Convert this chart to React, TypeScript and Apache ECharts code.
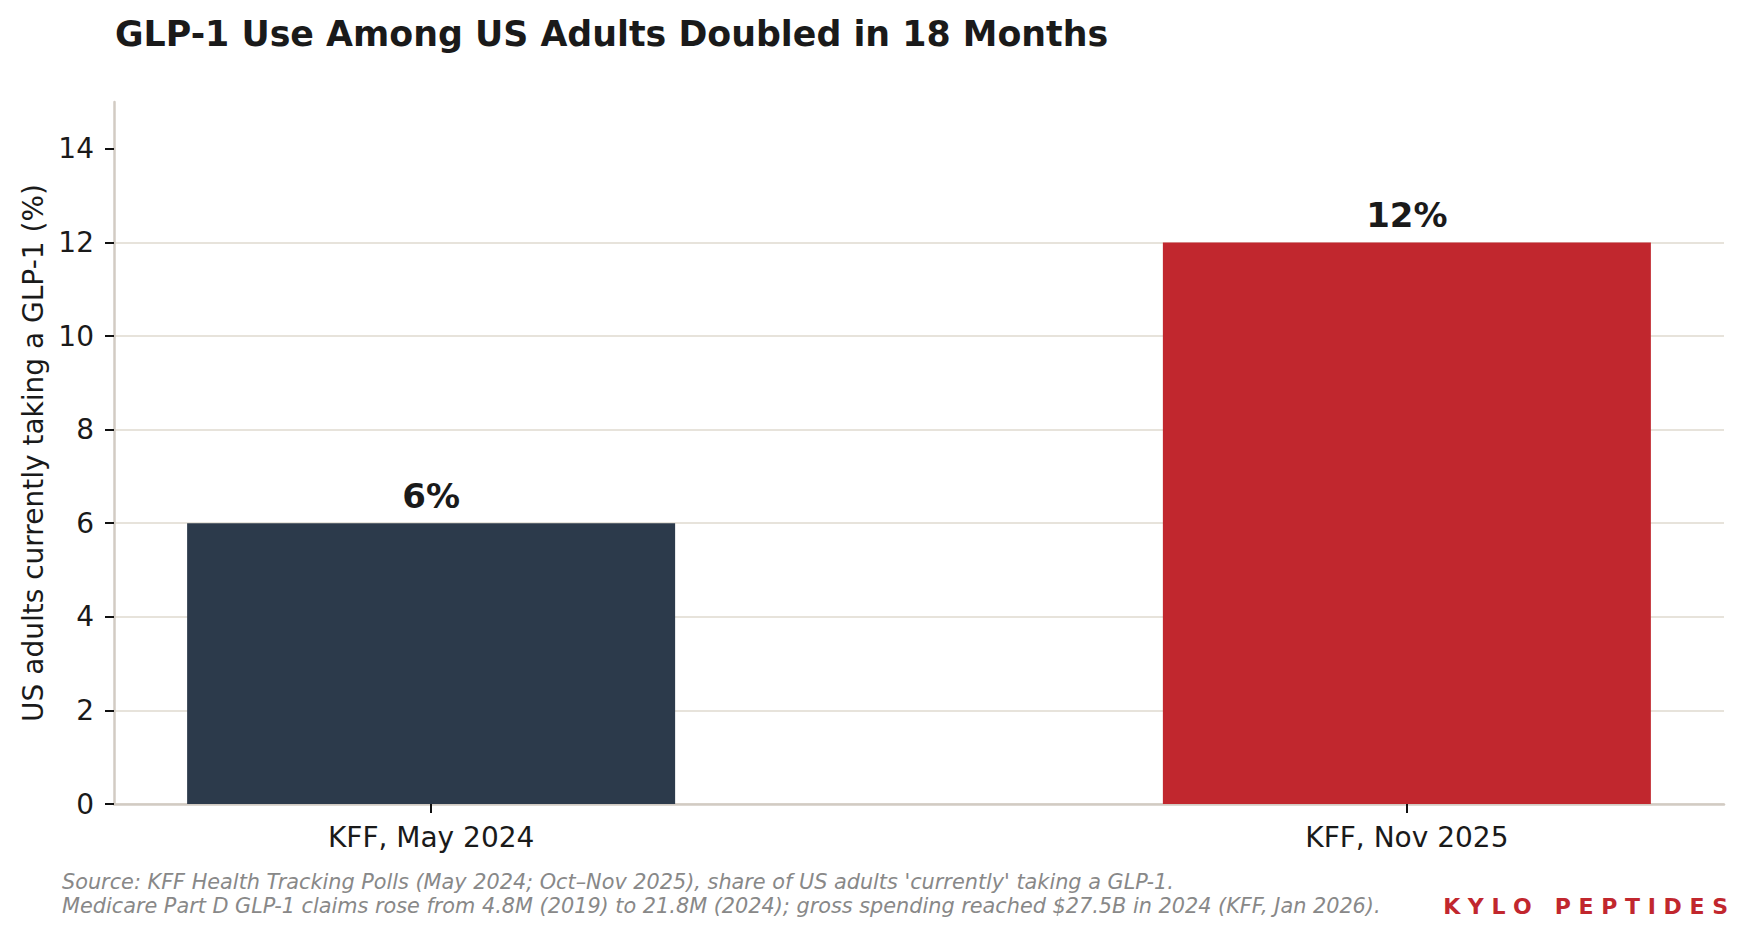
import { useEffect, useRef } from "react";
import * as echarts from "echarts";

// dados
const categories = ["KFF, May 2024", "KFF, Nov 2025"];
const shares = [6, 12];
const barColors = ["#2c3a4b", "#c1272e"];
const yTicks = [0, 2, 4, 6, 8, 10, 12, 14];

const TITLE = "GLP-1 Use Among US Adults Doubled in 18 Months";
const Y_NAME = "US adults currently taking a GLP-1 (%)";
const NOTE_1 = "Source: KFF Health Tracking Polls (May 2024; Oct–Nov 2025), share of US adults 'currently' taking a GLP-1.";
const NOTE_2 = "Medicare Part D GLP-1 claims rose from 4.8M (2019) to 21.8M (2024); gross spending reached $27.5B in 2024 (KFF, Jan 2026).";
const BRAND = "K Y L O   P E P T I D E S";

const FONT = "DejaVu Sans";
const INK = "#1a1a1a";

export default function App() {
  const ref = useRef<HTMLDivElement>(null);

  useEffect(() => {
    if (!ref.current) return;
    const chart = echarts.init(ref.current, undefined, { renderer: "svg" });

    chart.setOption({
      animation: false,
      backgroundColor: "#ffffff",
      textStyle: { fontFamily: FONT },
      grid: { left: 114, right: 23, top: 102, bottom: 131, outerBoundsMode: "none" },
      xAxis: {
        type: "value",
        min: -0.325,
        max: 1.325,
        axisLine: { onZero: false, lineStyle: { color: "#d2cbc3", width: 2.5 } },
        axisTick: { customValues: [0, 1], length: 9, lineStyle: { color: "#111", width: 2 } },
        axisLabel: {
          customValues: [0, 1],
          formatter: (v: number) => categories[Math.round(v)] ?? "",
          fontSize: 28,
          color: INK,
          margin: 19,
          fontFamily: FONT,
        },
        splitLine: { show: false },
      },
      yAxis: {
        type: "value",
        min: 0,
        max: 15,
        interval: 2,
        name: Y_NAME,
        nameLocation: "middle",
        nameGap: 66,
        nameTextStyle: { fontSize: 28, color: INK, fontFamily: FONT },
        axisLine: { show: true, onZero: false, lineStyle: { color: "#d2cbc3", width: 2.5 } },
        axisTick: { show: true, customValues: yTicks, length: 9, lineStyle: { color: "#111", width: 2 } },
        axisLabel: { customValues: yTicks, fontSize: 28, color: INK, margin: 20, fontFamily: FONT },
        splitLine: { showMaxLine: false, lineStyle: { color: "#e7e3db", width: 2 } },
      },
      series: [
        {
          type: "bar",
          barWidth: 488,
          data: shares.map((v, i) => ({ value: [i, v], itemStyle: { color: barColors[i] } })),
          label: {
            show: true,
            position: "top",
            distance: 10,
            formatter: (p: any) => `${p.value[1]}%`,
            fontSize: 34,
            fontWeight: "bold",
            color: INK,
            fontFamily: FONT,
          },
        },
      ],
      graphic: [
        {
          type: "text",
          x: 115,
          y: 34,
          style: { text: TITLE, font: `bold 34.8px "${FONT}"`, fill: INK, verticalAlign: "middle" },
        },
        {
          type: "text",
          x: 62,
          y: 882,
          style: { text: NOTE_1, font: `italic 20.8px "${FONT}"`, fill: "#888888", verticalAlign: "middle" },
        },
        {
          type: "text",
          x: 62,
          y: 906,
          style: { text: NOTE_2, font: `italic 20.8px "${FONT}"`, fill: "#888888", verticalAlign: "middle" },
        },
        {
          type: "text",
          x: 1728,
          y: 906,
          style: {
            text: BRAND,
            font: `bold 22px "${FONT}"`,
            fill: "#c1272e",
            align: "right",
            verticalAlign: "middle",
          },
        },
      ],
    });

    return () => chart.dispose();
  }, []);

  return <div ref={ref} style={{ position: "fixed", left: 0, top: 0, width: 1747, height: 935 }} />;
}
